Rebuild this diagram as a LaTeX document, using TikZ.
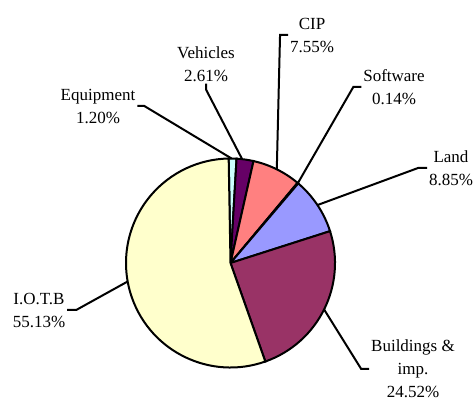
\documentclass[tikz,border=0pt]{standalone}
\usepackage{fontspec}
\setmainfont{Liberation Serif}
\newfontfamily\lblfont{Liberation Serif}
\definecolor{iotb}{HTML}{FFFFCC}
\definecolor{bldg}{HTML}{993366}
\definecolor{land}{HTML}{9999FF}
\definecolor{soft}{HTML}{0066CC}
\definecolor{cip}{HTML}{FF8080}
\definecolor{veh}{HTML}{660066}
\definecolor{equip}{HTML}{CCFFFF}
\begin{document}
\begin{tikzpicture}[x=1pt, y=1pt, line width=2pt,
    lbl/.style={align=center, inner sep=1pt, font=\lblfont\fontsize{17}{23}\selectfont},
    leader/.style={line join=miter}]
        \useasboundingbox (0,0) rectangle (476,401);
        \coordinate (o) at (230.5,138);
        % slices, clockwise from the top
        \foreach \a/\b/\c in {91/86.68/equip, 86.68/77.28/veh, 77.28/50.1/cip,
                              50.1/49.6/soft, 49.6/17.74/land, 17.74/-70.53/bldg,
                              -70.53/-269/iotb}
            \filldraw [fill=\c] (o) -- ++(\a:104.5) arc (\a:\b:104.5) -- cycle;
        % points on the rim where the leaders start
        \path (o) ++(89.4:104.5) coordinate (pEquip);
        \path (o) ++(83.6:104.5) coordinate (pVeh);
        \path (o) ++(63.7:104.5) coordinate (pCip);
        \path (o) ++(49.85:104.5) coordinate (pSoft);
        \path (o) ++(33.67:104.5) coordinate (pLand);
        \path (o) ++(-26.4:104.5) coordinate (pBldg);
        \path (o) ++(-169.8:104.5) coordinate (pIotb);
        % labels
        \node [lbl] (equipLbl) at (98,295) {Equipment\\1.20\%};
        \node [lbl] (vehLbl) at (206,337) {Vehicles\\2.61\%};
        \node [lbl] (cipLbl) at (312,366) {CIP\\7.55\%};
        \node [lbl] (softLbl) at (394,314) {Software\\0.14\%};
        \node [lbl] (landLbl) at (451,233) {Land\\8.85\%};
        \node [lbl] (bldgLbl) at (413,32) {Buildings \&\\imp.\\24.52\%};
        \node [lbl] (iotbLbl) at (39,91) {I.O.T.B\\55.13\%};
        % leaders
        \draw [leader] (pEquip) -- ([xshift=7pt]equipLbl.east) -- (equipLbl.east);
        \draw [leader] (pVeh) -- ([yshift=-6pt]vehLbl.south) -- (vehLbl.south);
        \draw [leader] (pCip) -- ([xshift=-8pt]cipLbl.west) -- (cipLbl.west);
        \draw [leader] (pSoft) -- ([xshift=-8pt]softLbl.west) -- (softLbl.west);
        \draw [leader] (pLand) -- ([xshift=-9pt]landLbl.west) -- (landLbl.west);
        \draw [leader] (pBldg) -- ([xshift=-8pt]bldgLbl.west) -- (bldgLbl.west);
        \draw [leader] (pIotb) -- ([xshift=9pt]iotbLbl.east) -- (iotbLbl.east);
\end{tikzpicture}
\end{document}
